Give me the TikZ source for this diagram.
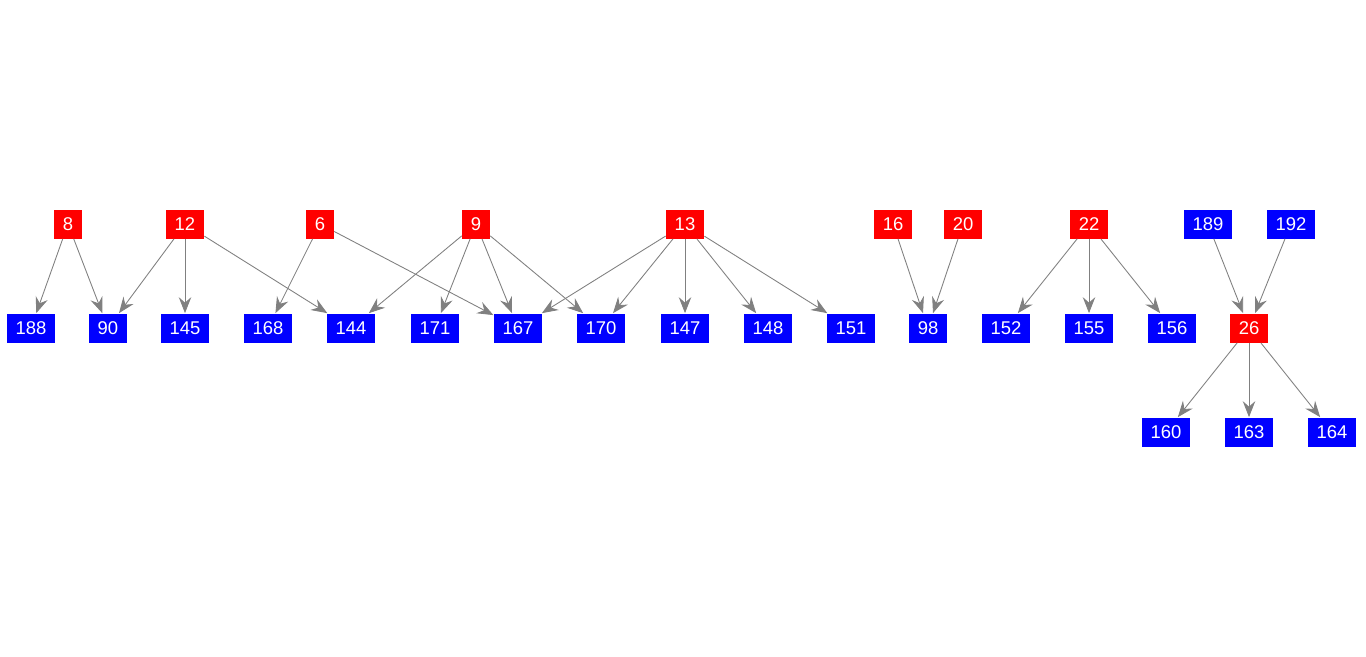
\documentclass[tikz,border=0pt]{standalone}
\usepackage{fontspec}
\setmainfont{Liberation Sans}
\usepackage{xcolor}
\usetikzlibrary{arrows.meta,positioning}
\definecolor{Src}{RGB}{255,0,0}
\definecolor{Dst}{RGB}{0,0,255}
\definecolor{Edge}{RGB}{128,128,128}

\begin{document}
\begin{tikzpicture}[x=0.02cm, y=-0.02cm,
    vbox/.style={inner xsep=5pt, inner ysep=0pt, minimum height=0.58cm, text=white, font=\fontsize{10.5}{11}\selectfont},
    redbox/.style={vbox, fill=Src},
    bluebox/.style={vbox, fill=Dst},
    link/.style={draw=Edge, -{Stealth[length=3.2mm, width=2.5mm, inset=1.1mm]}, line width=0.5pt}]
    \useasboundingbox (0,0) rectangle (1366,656);
    % top row
    \foreach \n/\x in {8/68,12/185,6/320,9/476,13/685,16/893,20/963,22/1089} {
      \node[redbox] (n\n) at (\x,224) {\n};
    }
    \foreach \n/\x in {189/1208,192/1291} {
      \node[bluebox] (n\n) at (\x,224) {\n};
    }
    % middle row
    \foreach \n/\x in {188/31,90/108,145/185,168/268,144/351,171/435,167/518,170/601,147/685,148/768,151/851,98/928,152/1006,155/1089,156/1172} {
      \node[bluebox] (n\n) at (\x,328) {\n};
    }
    \node[redbox] (n26) at (1249,328) {26};
    % bottom row
    \foreach \n/\x in {160/1166,163/1249,164/1332} {
      \node[bluebox] (n\n) at (\x,432) {\n};
    }
    % edges
    \foreach \a/\b in {8/188,8/90,12/90,12/145,12/144,6/168,6/167,9/144,9/171,9/167,9/170,13/167,13/170,13/147,13/148,13/151,16/98,20/98,22/152,22/155,22/156,189/26,192/26,26/160,26/163,26/164} {
      \draw[link] (n\a) -- (n\b);
    }
\end{tikzpicture}
\end{document}
